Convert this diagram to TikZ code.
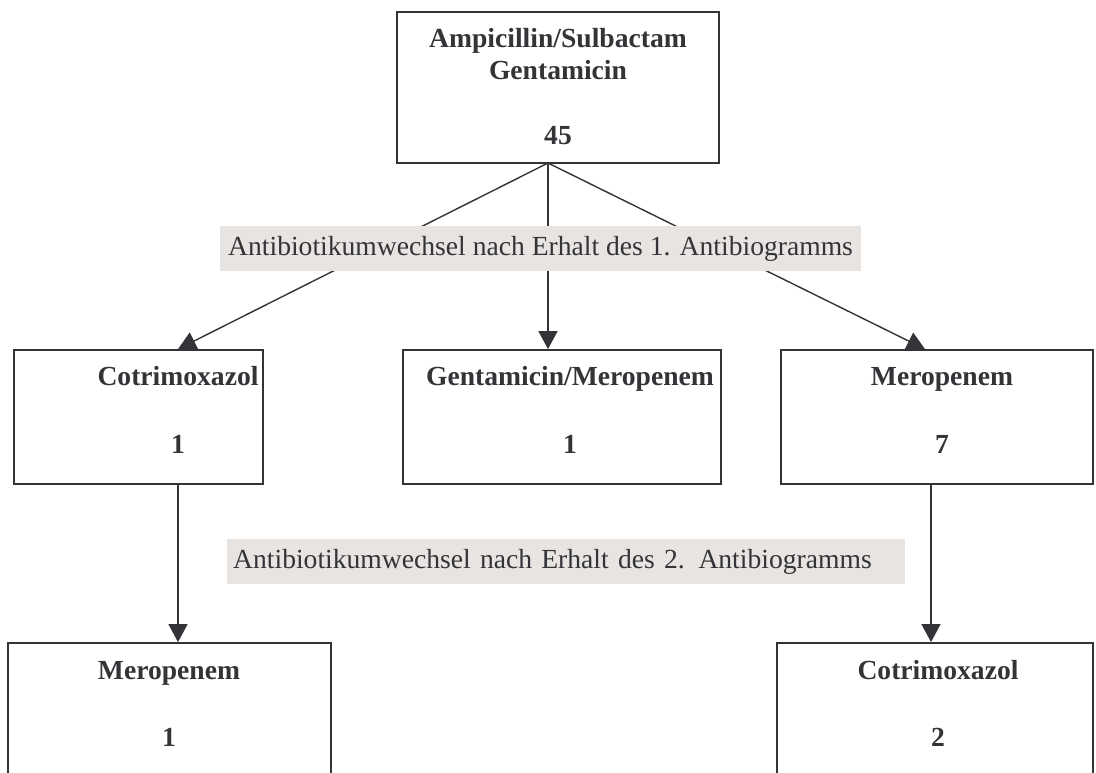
\documentclass[tikz,border=0pt]{standalone}
\usepackage{fontspec}
\setmainfont{Liberation Serif}
\usetikzlibrary{arrows.meta}
\definecolor{ink}{RGB}{52,52,56}
\definecolor{notegray}{RGB}{231,228,225}

\begin{document}
\begin{tikzpicture}[x=1pt,y=-1pt]

\tikzset{box/.style = {shape=rectangle,draw=ink,line width=1.8pt,inner sep=0pt}}
\tikzset{title/.style = {font=\fontsize{27.6}{32}\selectfont\bfseries,text=ink,anchor=base,inner sep=0pt}}
\tikzset{note/.style = {fill=notegray,text=ink,font=\fontsize{27.6}{32}\selectfont,anchor=west,minimum height=45pt,inner ysep=0pt}}
\tikzset{edge/.style = {draw=ink,line width=1.4pt,-{Triangle[length=18pt,width=19pt]}}}

\useasboundingbox (0,0) rectangle (1096,772);
\clip (0,0) rectangle (1096,772);
%boxes
\node[box, minimum width=322, minimum height=151] (start) at (558,87.5) {};
\node[box, minimum width=249, minimum height=134] (cotri) at (138.5,417) {};
\node[box, minimum width=318, minimum height=134] (gentamero) at (562,417) {};
\node[box, minimum width=312, minimum height=134] (mero) at (937,417) {};
\node[box, minimum width=323, minimum height=157] (merolow) at (169.5,721.5) {};
\node[box, minimum width=316, minimum height=157] (cotrilow) at (935,721.5) {};
%texts
\node[title] (start-a) at (558,47) {Ampicillin/Sulbactam};
\node[title] (start-b) at (558,79) {Gentamicin};
\node[title] (start-n) at (558,144) {45};
\node[title] (cotri-t) at (178,385) {Cotrimoxazol};
\node[title] (cotri-n) at (178,453) {1};
\node[title] (gentamero-t) at (570,385) {Gentamicin/Meropenem};
\node[title] (gentamero-n) at (570,453) {1};
\node[title] (mero-t) at (942,385) {Meropenem};
\node[title] (mero-n) at (942,453) {7};
\node[title] (merolow-t) at (169,679) {Meropenem};
\node[title] (merolow-n) at (169,746) {1};
\node[title] (cotrilow-t) at (938,679) {Cotrimoxazol};
\node[title] (cotrilow-n) at (938,746) {2};
%edges
\coordinate (split) at (548,163);
\draw[edge] (split) -- (cotri-t |- cotri.north);
\draw[edge] (split) -- (split |- gentamero.north);
\draw[edge] (split) -- ([xshift=-17]mero-t |- mero.north);
\draw[edge] (cotri-t |- cotri.south) -- (cotri-t |- merolow.north);
\draw[edge] ([xshift=-11]mero-t |- mero.south) -- ([xshift=-11]mero-t |- cotrilow.north);
%notes
\node[note, inner xsep=8pt] (first) at (220,248.5) {Antibiotikumwechsel nach Erhalt des 1. Antibiogramms};
\node[note, inner xsep=6pt, text width=666pt, align=left] (second) at (227,561.5) {Antibiotikumwechsel nach Erhalt des 2. Antibiogramms};

\end{tikzpicture}
\end{document}
